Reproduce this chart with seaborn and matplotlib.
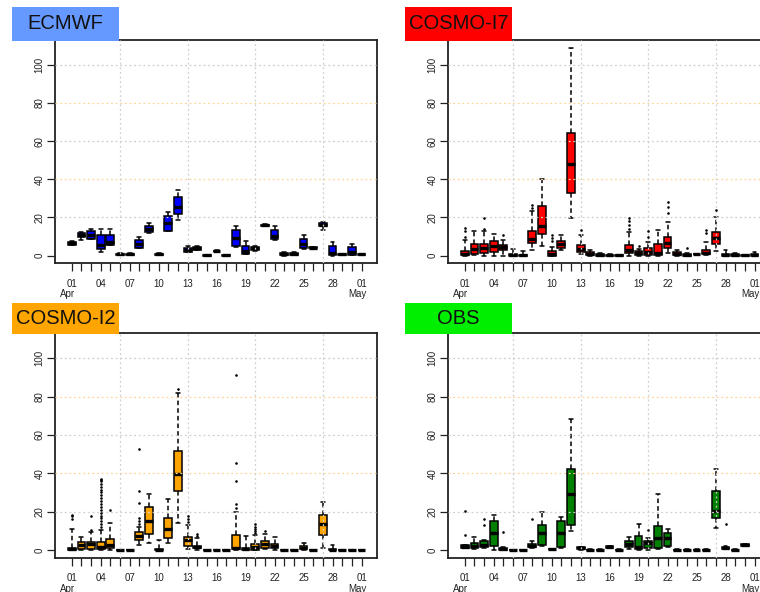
import numpy as np
import pandas as pd
import matplotlib
matplotlib.use("Agg")
import matplotlib.pyplot as plt
import seaborn as sns
from matplotlib.patches import Rectangle

# ---------------- data ----------------
days = list(range(31))  # 01 Apr .. 01 May
tick_labels = ["01", "04", "07", "10", "13", "16", "19", "22", "25", "28", "01"]
month_labels = {0: "Apr", 30: "May"}

# ECMWF: whisker low, Q1, median, Q3, whisker high
ecmwf_lo  = [5.5, 8.3, 8.5, 2.0, 5.7, 0.3, 0.3, 3.8, 12.0, 0.3, 12.7, 18.5, 1.8, 2.8, 0.0, 2.4, 0.0, 4.5, 0.9, 2.6, 15.3, 8.3, 0.0, 0.3, 3.5, 4.0, 13.4, 0.0, 0.5, 0.2, 0.5]
ecmwf_q1  = [5.8, 10.0, 8.5, 3.5, 5.7, 0.5, 0.5, 3.8, 12.5, 0.5, 12.7, 21.7, 2.0, 3.0, 0.0, 2.5, 0.0, 5.0, 1.0, 2.8, 15.5, 8.5, 0.2, 0.5, 4.0, 4.1, 15.3, 0.2, 0.6, 0.3, 0.6]
ecmwf_med = [6.5, 11.0, 10.8, 5.5, 7.0, 0.8, 0.8, 6.0, 14.0, 0.8, 17.0, 25.5, 3.0, 3.8, 0.2, 2.6, 0.2, 9.0, 2.5, 3.8, 16.0, 10.5, 0.8, 1.0, 6.0, 4.2, 16.0, 1.5, 0.8, 1.8, 0.8]
ecmwf_q3  = [7.2, 12.0, 13.0, 11.0, 11.0, 1.0, 1.0, 8.3, 15.5, 1.0, 21.0, 30.5, 4.0, 4.5, 0.4, 2.7, 0.4, 13.5, 5.0, 4.8, 16.3, 13.5, 1.5, 1.5, 8.5, 4.3, 17.2, 5.0, 1.0, 4.5, 1.0]
ecmwf_hi  = [7.5, 12.5, 14.0, 14.0, 14.0, 1.2, 1.2, 9.7, 17.0, 1.2, 23.0, 34.5, 5.0, 5.0, 0.5, 2.8, 0.5, 15.3, 7.8, 5.2, 16.5, 15.8, 1.8, 2.0, 11.0, 4.4, 17.4, 7.0, 1.1, 5.9, 1.1]
ecmwf_out_day = []
ecmwf_out_val = []

# COSMO-I7
i7_lo  = [0.0, 0.3, 0.0, 0.0, 0.0, 0.0, 0.0, 3.0, 5.0, 0.0, 3.0, 19.5, 0.8, 0.0, 0.0, 0.0, 0.0, 0.0, 0.0, 0.0, 0.0, 1.5, 0.0, 0.0, 0.5, 0.5, 2.5, 0.0, 0.0, 0.0, 0.0]
i7_q1  = [0.3, 1.0, 1.4, 2.0, 3.0, 0.0, 0.0, 6.6, 11.5, 0.0, 4.0, 33.0, 2.0, 0.5, 0.0, 0.0, 0.0, 1.4, 0.5, 0.5, 0.5, 4.0, 0.3, 0.0, 0.7, 0.9, 6.3, 0.0, 0.0, 0.0, 0.0]
i7_med = [0.8, 3.5, 4.0, 5.0, 4.3, 0.3, 0.2, 8.5, 15.5, 1.0, 6.0, 48.0, 3.5, 1.0, 0.2, 0.2, 0.1, 2.8, 1.2, 2.0, 1.4, 6.6, 1.0, 0.3, 0.8, 1.5, 9.5, 0.3, 0.3, 0.1, 0.3]
i7_q3  = [2.5, 6.0, 6.0, 7.5, 5.7, 0.8, 0.5, 13.0, 26.0, 2.3, 7.8, 64.5, 5.7, 2.0, 0.8, 0.5, 0.3, 5.7, 2.3, 4.0, 6.3, 10.0, 1.8, 0.8, 1.0, 3.0, 12.5, 0.8, 0.8, 0.3, 0.8]
i7_hi  = [8.0, 12.7, 13.0, 11.5, 8.3, 3.5, 2.3, 23.5, 40.0, 4.5, 10.8, 109.0, 11.0, 3.2, 1.5, 1.0, 0.5, 12.5, 3.5, 7.0, 13.2, 17.4, 3.0, 1.5, 1.1, 7.0, 20.0, 3.0, 1.5, 0.5, 1.7]
i7_out_day = [0, 0, 0, 2, 2, 4, 7, 7, 9, 9, 9, 12, 17, 17, 17, 17, 18, 19, 19, 21, 21, 21, 23, 25, 25, 26]
i7_out_val = [10.0, 13.0, 14.5, 14.0, 19.6, 11.0, 25.0, 26.5, 7.5, 9.2, 11.0, 13.5, 14.0, 16.0, 18.0, 19.6, 5.2, 9.7, 12.7, 22.3, 25.7, 28.3, 3.8, 11.8, 13.2, 24.0]

# COSMO-I2
i2_lo  = [0.0, 0.0, 0.0, 0.0, 0.0, 0.0, 0.0, 2.5, 3.9, 0.0, 3.9, 14.0, 0.4, 0.0, 0.0, 0.0, 0.0, 0.0, 0.0, 0.0, 0.5, 0.0, 0.0, 0.0, 0.0, 0.0, 1.2, 0.0, 0.0, 0.0, 0.0]
i2_q1  = [0.1, 0.4, 0.4, 0.4, 0.9, 0.0, 0.0, 5.4, 8.6, 0.0, 6.5, 31.0, 2.1, 0.9, 0.0, 0.0, 0.0, 0.3, 0.0, 0.2, 1.2, 0.9, 0.0, 0.0, 0.4, 0.0, 7.7, 0.0, 0.0, 0.0, 0.0]
i2_med = [0.5, 2.5, 3.0, 1.6, 2.5, 0.0, 0.0, 7.5, 15.0, 0.2, 11.0, 39.5, 5.0, 1.6, 0.0, 0.0, 0.0, 1.0, 0.3, 1.5, 3.0, 2.0, 0.0, 0.0, 1.0, 0.0, 13.5, 0.2, 0.0, 0.0, 0.0]
i2_q3  = [1.2, 4.4, 4.4, 4.4, 5.6, 0.1, 0.1, 9.6, 22.6, 0.5, 16.5, 51.5, 6.8, 2.3, 0.1, 0.1, 0.1, 8.0, 0.8, 3.0, 4.6, 3.2, 0.1, 0.1, 2.0, 0.1, 18.4, 0.5, 0.1, 0.1, 0.1]
i2_hi  = [11.0, 7.0, 9.5, 10.4, 13.9, 0.2, 0.2, 12.0, 29.0, 5.0, 26.5, 82.0, 13.0, 6.5, 0.2, 0.2, 0.2, 20.0, 7.4, 8.0, 8.5, 6.8, 0.2, 0.2, 3.5, 0.2, 24.9, 2.5, 0.2, 0.2, 0.2]
i2_out_day = [0, 0, 0, 2, 2, 3, 3, 3, 3, 3, 3, 3, 3, 3, 3, 3, 3, 3, 3, 3, 3, 3, 3, 3, 4, 7, 7, 7, 7, 7, 7, 11, 12, 12, 12, 13, 13,
              17, 17, 17, 17, 17, 19, 19, 19, 19, 19, 20]
i2_out_val = [16.0, 17.5, 18.5, 10.5, 18.0, 12.0, 13.5, 15.0, 16.5, 18.0, 19.5, 21.0, 22.5, 24.0, 25.5, 27.0, 28.5, 30.0, 31.5, 33.0, 34.5, 36.0, 37.0, 36.5, 21.0,
              13.5, 15.0, 16.5, 24.5, 30.7, 52.5, 84.0, 14.5, 16.0, 17.5, 7.5, 8.5,
              22.0, 24.0, 36.0, 45.5, 91.5, 9.0, 10.0, 11.0, 12.0, 13.5, 10.0]

# OBS (no value on 01 May)
obs_lo  = [0.9, 0.5, 1.0, 0.0, 0.0, 0.0, 0.0, 0.9, 2.3, 0.3, 0.9, 9.8, 0.2, 0.0, 0.0, 0.9, 0.0, 0.5, 0.0, 0.0, 0.3, 1.5, 0.0, 0.0, 0.0, 0.0, 11.5, 0.3, 0.0, 1.9, None]
obs_q1  = [0.9, 0.9, 1.4, 2.1, 0.2, 0.0, 0.0, 1.4, 2.8, 0.4, 1.4, 13.2, 0.5, 0.0, 0.0, 0.9, 0.0, 1.7, 0.5, 1.0, 0.9, 2.1, 0.0, 0.0, 0.0, 0.0, 16.7, 0.5, 0.0, 2.0, None]
obs_med = [1.7, 2.2, 2.8, 9.0, 0.5, 0.0, 0.0, 2.2, 9.0, 0.5, 9.0, 29.0, 1.0, 0.1, 0.1, 1.5, 0.1, 3.0, 1.7, 3.7, 6.3, 6.1, 0.1, 0.1, 0.1, 0.1, 20.5, 1.0, 0.1, 2.5, None]
obs_q3  = [2.6, 3.5, 4.9, 15.0, 0.8, 0.1, 0.1, 3.1, 13.2, 0.6, 15.3, 42.0, 1.4, 0.2, 0.2, 2.3, 0.2, 4.9, 7.5, 4.9, 12.5, 8.7, 0.2, 0.2, 0.2, 0.2, 31.0, 1.5, 0.2, 3.0, None]
obs_hi  = [2.6, 6.6, 5.0, 18.3, 1.7, 0.2, 0.2, 4.5, 19.7, 0.7, 17.0, 68.5, 1.8, 0.3, 0.3, 2.3, 0.3, 6.6, 13.6, 6.3, 29.0, 10.8, 0.3, 0.3, 0.3, 0.3, 42.0, 2.3, 0.3, 3.1, None]
obs_out_day = [0, 0, 2, 2, 4, 7, 19, 27]
obs_out_val = [7.8, 20.6, 12.9, 16.0, 9.2, 16.0, 10.6, 13.6]

models = ["ECMWF", "COSMO-I7", "COSMO-I2", "OBS"]
box_colors = ["#0000ff", "#ff0000", "#ffa500", "#008000"]
title_colors = ["#6699ff", "#ff0000", "#ffa500", "#00ee00"]

stats = {
    "ECMWF": (ecmwf_lo, ecmwf_q1, ecmwf_med, ecmwf_q3, ecmwf_hi, ecmwf_out_day, ecmwf_out_val),
    "COSMO-I7": (i7_lo, i7_q1, i7_med, i7_q3, i7_hi, i7_out_day, i7_out_val),
    "COSMO-I2": (i2_lo, i2_q1, i2_med, i2_q3, i2_hi, i2_out_day, i2_out_val),
    "OBS": (obs_lo, obs_q1, obs_med, obs_q3, obs_hi, obs_out_day, obs_out_val),
}

# ---------------- style ----------------
sns.set_theme(style="white")
plt.rcParams["font.family"] = ["Liberation Sans", "DejaVu Sans"]

W, H = 760, 592
fig = plt.figure(figsize=(W / 100, H / 100), dpi=100)

# axes boxes in pixels: (left, top, right, bottom)
ax_px = [(55, 40, 377, 263.3), (448, 40, 770, 263.3),
         (55, 333.3, 377, 557.7), (448, 333.3, 770, 557.7)]
title_px = [(12, 7, 119, 40.5), (405, 7, 512, 40.5),
            (12, 303, 119, 334), (405, 303, 512, 334)]

for k, m in enumerate(models):
    l, t, r, b = ax_px[k]
    ax = fig.add_axes([l / W, 1 - b / H, (r - l) / W, (b - t) / H])
    lo, q1, med, q3, hi, od, ov = stats[m]
    rows = []
    for d in days:
        if lo[d] is None:
            continue
        for v in (lo[d], q1[d], med[d], q3[d], hi[d]):
            rows.append((d, v))
    df = pd.DataFrame(rows, columns=["day", "value"])

    sns.boxplot(data=df, x="day", y="value", order=days, color=box_colors[k],
                saturation=1, width=0.8, whis=(0, 100), showfliers=False,
                linecolor="black", linewidth=1.1,
                medianprops=dict(linewidth=2.4, color="black"),
                whiskerprops=dict(linestyle=(0, (3, 2)), linewidth=1.1),
                capprops=dict(linewidth=1.1),
                ax=ax)
    if len(od):
        sns.scatterplot(x=od, y=ov, ax=ax, color="black", s=3.5, marker="o",
                        linewidth=0, legend=False, zorder=4)

    # dotted grid drawn over the boxes
    for y in (20, 60, 100):
        ax.axhline(y, color="#cfcfcf", lw=0.9, ls=(0, (1.5, 2.2)), zorder=3)
    for y in (40, 80):
        ax.axhline(y, color="#ffd59a", lw=0.9, ls=(0, (1.5, 2.2)), zorder=3)
    for x in (5, 12, 19, 26):
        ax.axvline(x, color="#cfcfcf", lw=0.9, ls=(0, (1.5, 2.2)), zorder=3)

    ax.set_xlim(-1.73, 31.6)
    ax.set_ylim(-4, 113)
    ax.set_xticks(days)
    ax.set_xticklabels([tick_labels[d // 3] if d % 3 == 0 else "" for d in days],
                       fontsize=7, color="#222222")
    ax.set_yticks([0, 20, 40, 60, 80, 100])
    ax.set_yticklabels(["0", "20", "40", "60", "80", "100"], rotation=90,
                       va="center", fontsize=7, color="#222222")
    ax.set_xlabel("")
    ax.set_ylabel("")
    ax.tick_params(axis="both", direction="out", length=5.5, width=0.9,
                   color="#222222", bottom=True, left=True)
    ax.tick_params(axis="x", pad=5.5)
    ax.tick_params(axis="y", pad=2)
    for s in ax.spines.values():
        s.set_visible(True)
        s.set_color("#222222")
        s.set_linewidth(1.3)

    for d, name in month_labels.items():
        ax.annotate(name, xy=(d, 0), xycoords=("data", "axes fraction"),
                    xytext=(-4.5, -31), textcoords="offset pixels",
                    ha="center", va="center", fontsize=7, color="#222222",
                    annotation_clip=False)

    # coloured title box
    x0, y0, x1, y1 = title_px[k]
    fig.add_artist(Rectangle((x0 / W, 1 - y1 / H), (x1 - x0) / W, (y1 - y0) / H,
                             transform=fig.transFigure, facecolor=title_colors[k],
                             edgecolor="none", zorder=10))
    fig.text((x0 + x1) / 2 / W, 1 - (y0 + y1) / 2 / H, m, ha="center", va="center",
             fontsize=14.5, color="#111111", zorder=11)

fig.savefig("out.png", dpi=100)
